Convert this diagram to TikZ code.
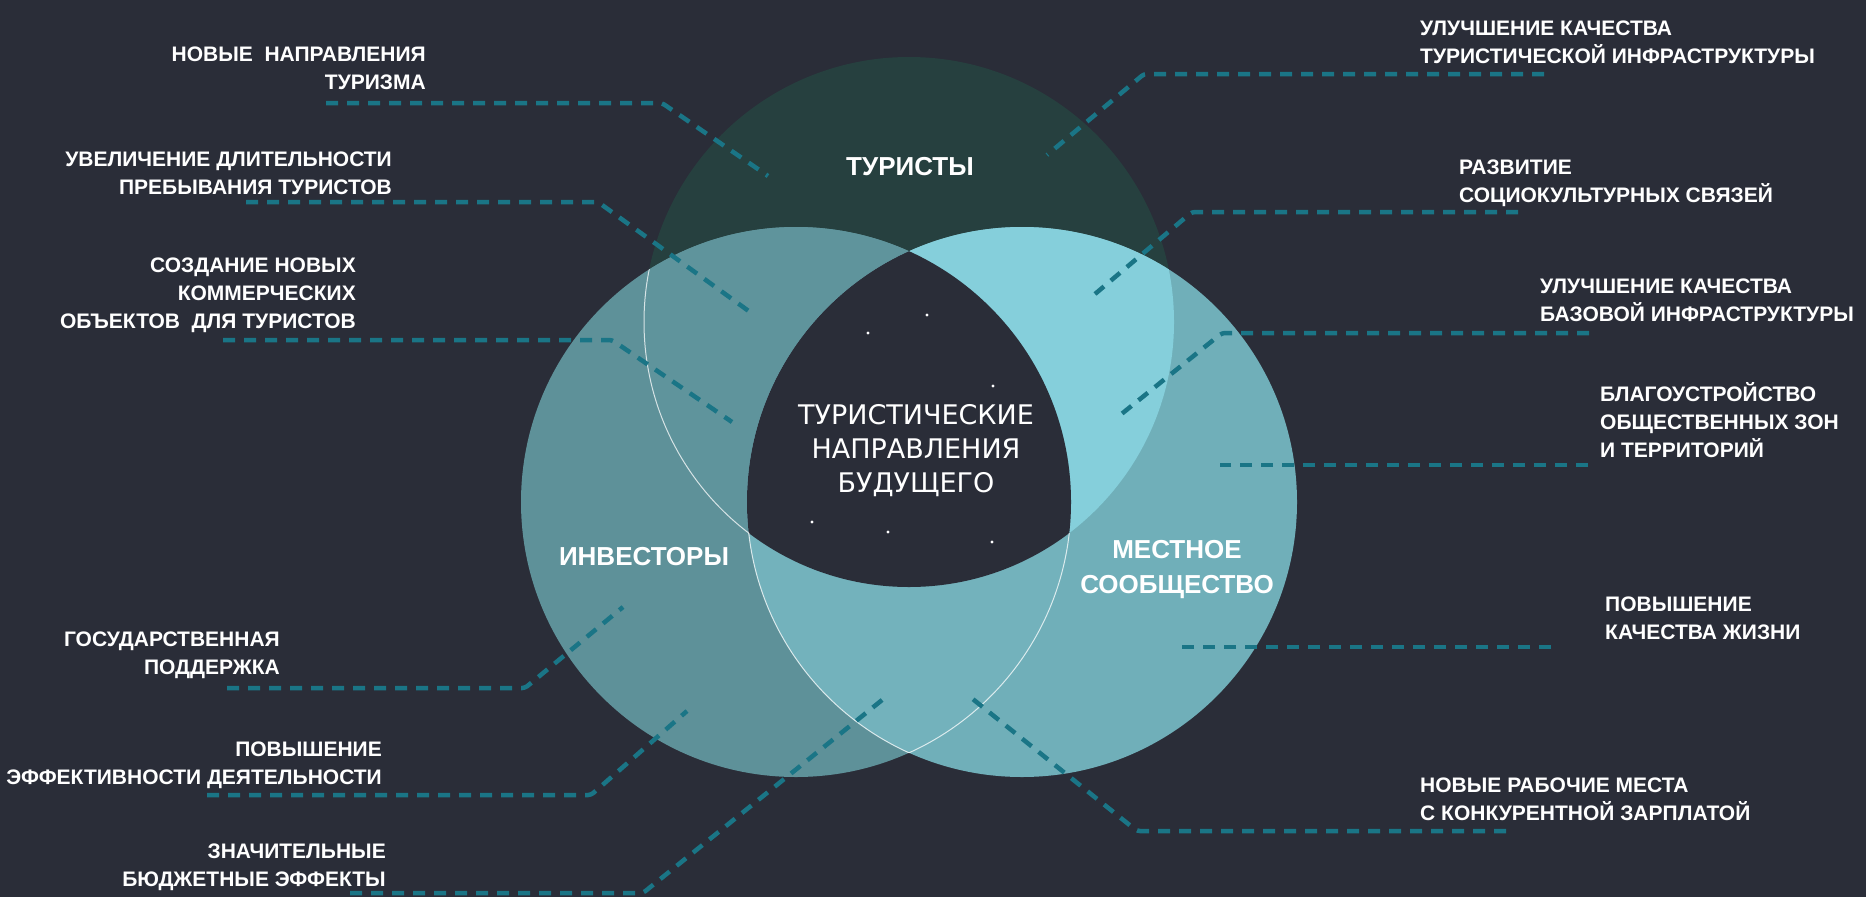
\documentclass[tikz,border=0pt]{standalone}
\usepackage{fontspec}
\setmainfont{Liberation Sans}
\newfontfamily\widefont{DejaVu Sans}
\usepackage{tikz}
\definecolor{bgc}{HTML}{2A2D38}
\definecolor{tourc}{HTML}{26403F}
\definecolor{invc}{HTML}{5E9199}
\definecolor{locc}{HTML}{70AFB9}
\definecolor{tlc}{HTML}{5F949C}
\definecolor{trc}{HTML}{85CFDB}
\definecolor{lrc}{HTML}{73B2BC}
\definecolor{leadc}{HTML}{1A7586}
\newcommand\rtop{265}
\newcommand\rside{275}
\tikzset{
  lead/.style={draw=leadc, line width=4.5pt, dash pattern=on 12pt off 9pt, rounded corners=3pt},
  rim/.style={draw=white, draw opacity=0.75, line width=1pt},
  lab/.style={text=white, inner sep=0pt, font=\bfseries\fontsize{21}{28}\selectfont},
  labl/.style={lab, anchor=east, align=right},
  labr/.style={lab, anchor=west, align=left},
  ring/.style={text=white, inner sep=0pt, align=center, font=\bfseries\fontsize{26}{35}\selectfont},
  core/.style={text=white, inner sep=0pt, align=center, font=\widefont\fontsize{27}{34}\selectfont}
}

\begin{document}
\begin{tikzpicture}[x=1pt,y=-1pt]
  \useasboundingbox (0,0) rectangle (1866,897);
  \fill[bgc] (0,0) rectangle (1866,897);

  \coordinate (T) at (909,322);
  \coordinate (L) at (796,502);
  \coordinate (R) at (1022,502);

  % three circles and their overlaps
  \fill[tourc] (T) circle (\rtop);
  \fill[invc] (L) circle (\rside);
  \fill[locc] (R) circle (\rside);
  \begin{scope}
    \clip (T) circle (\rtop);
    \fill[tlc] (L) circle (\rside);
    \fill[trc] (R) circle (\rside);
  \end{scope}
  \begin{scope}
    \clip (L) circle (\rside);
    \fill[lrc] (R) circle (\rside);
  \end{scope}
  \begin{scope}
    \clip (T) circle (\rtop);
    \clip (L) circle (\rside);
    \fill[bgc] (R) circle (\rside);
  \end{scope}

  \begin{scope}
    \clip (L) circle (\rside);
    \clip (0,0) rectangle (749,897);
    \draw[rim] (T) circle (\rtop);
  \end{scope}
  \begin{scope}
    \clip (L) circle (\rside);
    \clip (0,533) rectangle (1866,897);
    \draw[rim] (R) circle (\rside);
  \end{scope}
  \begin{scope}
    \clip (R) circle (\rside);
    \clip (0,533) rectangle (1866,897);
    \draw[rim] (L) circle (\rside);
  \end{scope}

  \foreach \p in {(927,315),(868,333),(993,386),(812,522),(888,532),(992,542)}
    \fill[white] \p circle (1.6);

  \coordinate (l1a) at (326,103); \coordinate (l1b) at (662,103); \coordinate (l1c) at (768,176);
  \coordinate (l2a) at (246,202); \coordinate (l2b) at (598,202); \coordinate (l2c) at (750,312);
  \coordinate (l3a) at (223,340); \coordinate (l3b) at (612,340); \coordinate (l3c) at (732,422);
  \coordinate (l4a) at (227,688); \coordinate (l4b) at (525,688); \coordinate (l4c) at (623,607);
  \coordinate (l5a) at (207,795); \coordinate (l5b) at (591,795); \coordinate (l5c) at (687,711);
  \coordinate (l6a) at (350,893); \coordinate (l6b) at (643,893); \coordinate (l6c) at (887,696);
  \coordinate (r1a) at (1544,74); \coordinate (r1b) at (1144,74); \coordinate (r1c) at (1047,155);
  \coordinate (r2a) at (1518,212); \coordinate (r2b) at (1192,212); \coordinate (r2c) at (1095,294);
  \coordinate (r3a) at (1589,333); \coordinate (r3b) at (1222,333); \coordinate (r3c) at (1119,416);
  \coordinate (r4a) at (1588,465); \coordinate (r4b) at (1220,465);
  \coordinate (r5a) at (1551,647); \coordinate (r5b) at (1181,647);
  \coordinate (r6a) at (1506,831); \coordinate (r6b) at (1137,831); \coordinate (r6c) at (969,696);

  \draw[lead] (l1a) -- (l1b) -- (l1c);
  \draw[lead] (l2a) -- (l2b) -- (l2c);
  \draw[lead] (l3a) -- (l3b) -- (l3c);
  \draw[lead] (l4a) -- (l4b) -- (l4c);
  \draw[lead] (l5a) -- (l5b) -- (l5c);
  \draw[lead] (l6a) -- (l6b) -- (l6c);
  \draw[lead] (r1a) -- (r1b) -- (r1c);
  \draw[lead] (r2a) -- (r2b) -- (r2c);
  \draw[lead] (r3a) -- (r3b) -- (r3c);
  \draw[lead] (r4a) -- (r4b);
  \draw[lead] (r5a) -- (r5b);
  \draw[lead] (r6a) -- (r6b) -- (r6c);

  \node[ring] (tour) at (910,167) {ТУРИСТЫ};
  \node[ring] (inv) at (644,557) {ИНВЕСТОРЫ};
  \node[ring] (loc) at (1177,570) {МЕСТНОЕ\\СООБЩЕСТВО};
  \node[core] (fut) at (916,451) {ТУРИСТИЧЕСКИЕ\\НАПРАВЛЕНИЯ\\БУДУЩЕГО};

  \node[labl] (l1) at (426,68) {НОВЫЕ~ НАПРАВЛЕНИЯ\\ТУРИЗМА};
  \node[labl] (l2) at (392,173) {УВЕЛИЧЕНИЕ ДЛИТЕЛЬНОСТИ\\ПРЕБЫВАНИЯ ТУРИСТОВ};
  \node[labl] (l3) at (356,295) {СОЗДАНИЕ НОВЫХ\\КОММЕРЧЕСКИХ\\ОБЪЕКТОВ~ ДЛЯ ТУРИСТОВ};
  \node[labl] (l4) at (280,655) {ГОСУДАРСТВЕННАЯ\\ПОДДЕРЖКА};
  \node[labl] (l5) at (382,765) {ПОВЫШЕНИЕ\\ЭФФЕКТИВНОСТИ ДЕЯТЕЛЬНОСТИ};
  \node[labl] (l6) at (386,867) {ЗНАЧИТЕЛЬНЫЕ\\БЮДЖЕТНЫЕ ЭФФЕКТЫ};
  \node[labr] (r1) at (1420,42) {УЛУЧШЕНИЕ КАЧЕСТВА\\ТУРИСТИЧЕСКОЙ ИНФРАСТРУКТУРЫ};
  \node[labr] (r2) at (1459,183) {РАЗВИТИЕ\\СОЦИОКУЛЬТУРНЫХ СВЯЗЕЙ};
  \node[labr] (r3) at (1540,300) {УЛУЧШЕНИЕ КАЧЕСТВА\\БАЗОВОЙ ИНФРАСТРУКТУРЫ};
  \node[labr] (r4) at (1600,420) {БЛАГОУСТРОЙСТВО\\ОБЩЕСТВЕННЫХ ЗОН\\И ТЕРРИТОРИЙ};
  \node[labr] (r5) at (1605,618) {ПОВЫШЕНИЕ\\КАЧЕСТВА ЖИЗНИ};
  \node[labr] (r6) at (1420,799) {НОВЫЕ РАБОЧИЕ МЕСТА\\С КОНКУРЕНТНОЙ ЗАРПЛАТОЙ};
\end{tikzpicture}
\end{document}
